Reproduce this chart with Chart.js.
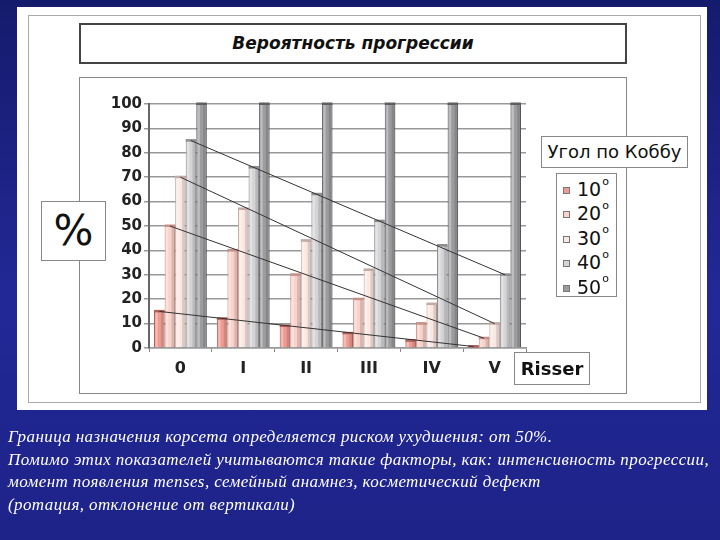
<!DOCTYPE html>
<html>
<head>
<meta charset="utf-8">
<script src="https://cdn.jsdelivr.net/npm/chart.js@4.4.0/dist/chart.umd.min.js"></script>
<style>
  html, body { margin: 0; padding: 0; }
  body {
    width: 720px; height: 540px; overflow: hidden; position: relative;
    background: linear-gradient(180deg, #151b6c 0%, #222896 55%, #1d2388 100%);
    font-family: "DejaVu Sans", sans-serif;
  }
  .panel { position: absolute; left: 17px; top: 7px; width: 690px; height: 403px; background: #fff; }
  .inner { position: absolute; left: 28px; top: 15px; width: 673px; height: 388px; border: 1px solid #aaa; box-sizing: border-box; }
  .box { position: absolute; background: #fff; box-sizing: border-box; }
  #titleBox { left: 79px; top: 23px; width: 548px; height: 41px; border: 2px solid #444; text-align: center;
    font: italic bold 17px "DejaVu Sans", sans-serif; line-height: 37px; color: #111; }
  #chartBox { left: 79px; top: 77px; width: 548px; height: 317px; border: 1px solid #888; }
  #pct { left: 41px; top: 201px; width: 65px; height: 60px; border: 1px solid #888; font: 42px "DejaVu Sans", sans-serif;
    text-align: center; line-height: 58px; color: #111; }
  #legTitle { left: 541px; top: 136px; width: 147px; height: 32px; border: 1px solid #888; font: 18px "DejaVu Sans", sans-serif;
    line-height: 30px; text-align: center; color: #111; }
  #legend { left: 556px; top: 173px; width: 61px; height: 124px; border: 1px solid #888; padding-top: 3px; }
  .item { height: 24.4px; font: 19px "DejaVu Sans", sans-serif; color: #111; position: relative; }
  .item i { position: absolute; left: 6px; top: 10px; width: 5px; height: 5px; border: 1px solid #777; }
  .item span { position: absolute; left: 20px; top: 1px; }
  .item sup { font-size: 11px; position: relative; top: -4px; margin-left: 1px; }
  #risser { left: 514px; top: 352px; width: 76px; height: 33px; border: 1px solid #888; font: bold 18px "DejaVu Sans", sans-serif;
    line-height: 31px; text-align: center; color: #111; }
  canvas { position: absolute; left: 0; top: 0; }
  #note { position: absolute; left: 8px; top: 426px; width: 712px; color: #fff;
    font: italic 17px "Liberation Serif", "DejaVu Serif", serif; letter-spacing: 0.4px; line-height: 22.5px; white-space: nowrap; }
</style>
</head>
<body>
<div class="panel"></div>
<div class="inner"></div>
<div class="box" id="titleBox">Вероятность прогрессии</div>
<div class="box" id="chartBox"></div>
<canvas id="c" width="720" height="540"></canvas>
<div class="box" id="pct">%</div>
<div class="box" id="legTitle">Угол по Коббу</div>
<div class="box" id="legend"></div>
<div class="box" id="risser">Risser</div>
<div id="note">Граница назначения корсета определяется риском ухудшения: от 50%.<br>
Помимо этих показателей учитываются такие факторы, как: интенсивность прогрессии,<br>
момент появления menses, семейный анамнез, косметический дефект<br>
(ротация, отклонение от вертикали)</div>
<script>
// Risser stages on the x axis
var stages = ["0", "I", "II", "III", "IV", "V"];
// Cobb angle series
var angles = ["10", "20", "30", "40", "50"];
var cobb10 = [15, 12, 9, 6, 3, 0.6];
var cobb20 = [50, 40, 30, 20, 10, 4];
var cobb30 = [70, 57, 44, 32, 18, 10];
var cobb40 = [85, 74, 63, 52, 42, 30];
var cobb50 = [100, 100, 100, 100, 100, 100];
var yTicks = [0, 10, 20, 30, 40, 50, 60, 70, 80, 90, 100];

var fills = ["#ef9b91", "#f9d2ca", "#fbe8e2", "#d4d4d6", "#9c9c9e"];
var edges = ["#b25e57", "#c99088", "#c4aaa4", "#8e8e90", "#5e5e60"];

var series = [cobb10, cobb20, cobb30, cobb40, cobb50];
var datasets = series.map(function (vals, i) {
  return {
    label: angles[i] + "°",
    data: vals,
    backgroundColor: fills[i],
    borderColor: edges[i],
    borderWidth: 1,
    barPercentage: 1.0,
    categoryPercentage: 0.84
  };
});

// legend built from the dataset colours
var leg = document.getElementById("legend");
angles.forEach(function (a, i) {
  var d = document.createElement("div");
  d.className = "item";
  d.innerHTML = '<i style="background:' + fills[i] + '"></i><span>' + a + '<sup>o</sup></span>';
  leg.appendChild(d);
});

// shading on bars to mimic the 3D look
var shade3d = {
  id: "shade3d",
  afterDatasetsDraw: function (chart) {
    var ctx = chart.ctx;
    ctx.save();
    chart.data.datasets.forEach(function (ds, i) {
      chart.getDatasetMeta(i).data.forEach(function (bar) {
        var w = bar.width, left = bar.x - w / 2, top = bar.y, h = bar.base - bar.y;
        if (h <= 0) return;
        ctx.fillStyle = "rgba(0,0,0,0.13)";
        ctx.fillRect(bar.x + w * 0.15, top, w * 0.35, h);
        ctx.fillStyle = "rgba(255,255,255,0.35)";
        ctx.fillRect(left + 1.5, top, w * 0.2, h);
        ctx.fillStyle = edges[i];
        ctx.fillRect(left, top - 1.5, w, 2.5);
      });
    });
    // trend lines through first and last bar tops of the first four series
    ctx.strokeStyle = "#333";
    ctx.lineWidth = 1;
    for (var i = 0; i < 4; i++) {
      var m = chart.getDatasetMeta(i).data;
      var a = m[0], b = m[m.length - 1];
      ctx.beginPath();
      ctx.moveTo(a.x, a.y);
      ctx.lineTo(b.x, b.y);
      ctx.stroke();
    }
    ctx.restore();
  }
};

new Chart(document.getElementById("c"), {
  type: "bar",
  data: { labels: stages, datasets: datasets },
  options: {
    responsive: false,
    animation: false,
    layout: { padding: { left: 102, right: 194, top: 104, bottom: 162 } },
    plugins: { legend: { display: false }, tooltip: { enabled: false } },
    scales: {
      x: {
        offset: true,
        grid: { display: true, drawOnChartArea: false, drawTicks: true, tickLength: 4, color: "#888", offset: true },
        border: { color: "#999", width: 1.5 },
        ticks: { color: "#222", font: { size: 16, weight: "bold", family: "DejaVu Sans" }, padding: 7 },
        afterFit: function (s) { s.height = 30; }
      },
      y: {
        min: 0, max: 100,
        afterBuildTicks: function (s) { s.ticks = yTicks.map(function (v) { return { value: v }; }); },
        grid: { color: "#999", lineWidth: 1.5, tickLength: 5 },
        border: { color: "#666", width: 2 },
        ticks: { color: "#222", font: { size: 15, weight: "bold", family: "DejaVu Sans" }, padding: 2 },
        afterFit: function (s) { s.width = 47; }
      }
    }
  },
  plugins: [shade3d]
});
</script>
</body>
</html>
